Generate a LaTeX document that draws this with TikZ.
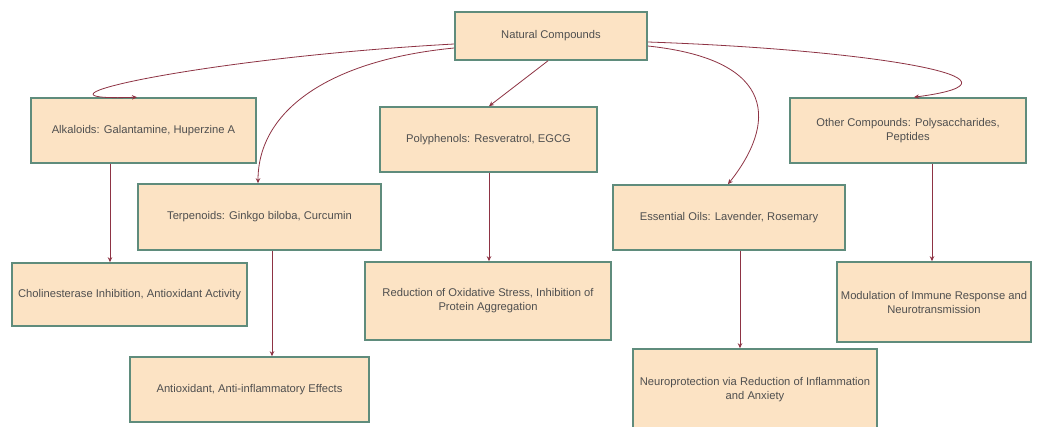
\documentclass[tikz,border=0pt]{standalone}
\usepackage{fontspec}
\setmainfont{Liberation Sans}
\usetikzlibrary{arrows.meta}
\definecolor{boxfill}{HTML}{FCE3C4}
\definecolor{boxline}{HTML}{5F8C7C}
\definecolor{arrcol}{HTML}{8E3344}
\definecolor{txt}{HTML}{4F4F4F}
\tikzset{
  box/.style={draw=boxline, line width=1.6pt, fill=boxfill, inner sep=1pt,
    align=center, text=txt, font=\fontsize{11.2}{14}\selectfont},
  arr/.style={draw=arrcol, line width=0.8pt, -{Stealth[length=5pt,width=4.5pt]}},
}
\begin{document}
\begin{tikzpicture}[x=1pt,y=-1pt]
\useasboundingbox (0,0) rectangle (1039,427);
\fill[white] (0,0) rectangle (1039,427);
\node[box, minimum width=192pt, minimum height=48pt] (nc) at (551,36) {Natural Compounds};
\node[box, minimum width=225pt, minimum height=65pt] (alk) at (143.5,130.5) {Alkaloids: Galantamine, Huperzine A};
\node[box, minimum width=243pt, minimum height=66pt] (ter) at (259.5,217) {Terpenoids: Ginkgo biloba, Curcumin};
\node[box, minimum width=217pt, minimum height=65pt] (poly) at (488.5,139.5) {Polyphenols: Resveratrol, EGCG};
\node[box, minimum width=232pt, minimum height=65pt] (ess) at (729,217.5) {Essential Oils: Lavender, Rosemary};
\node[box, minimum width=236pt, minimum height=65pt] (oth) at (908,130.5) {Other Compounds: Polysaccharides,\\Peptides};
\node[box, minimum width=235pt, minimum height=63pt] (cho) at (129.5,294.5) {Cholinesterase Inhibition, Antioxidant Activity};
\node[box, minimum width=246pt, minimum height=78pt] (red) at (488,301) {Reduction of Oxidative Stress, Inhibition of\\Protein Aggregation};
\node[box, minimum width=194pt, minimum height=80pt] (mod) at (934,302) {Modulation of Immune Response and\\Neurotransmission};
\node[box, minimum width=239pt, minimum height=65pt] (anti) at (249.5,389.5) {Antioxidant, Anti-inflammatory Effects};
\node[box, minimum width=244pt, minimum height=82pt] (neu) at (755,390) {Neuroprotection via Reduction of Inflammation\\and Anxiety};

% curves from Natural Compounds
\draw[arr] (nc.west |- 0,44) .. controls (200,58) and (5,102) .. (alk.north -| 137,0);
\draw[arr] (nc.west |- 0,48) .. controls (330,60) and (258,110) .. (ter.north -| 258,0);
\draw[arr] (nc.south -| 548,0) -- (poly.north -| 489,0);
\draw[arr] (nc.east |- 0,46) .. controls (780,60) and (775,125) .. (ess.north -| 728,0);
\draw[arr] (nc.east |- 0,42) .. controls (880,50) and (1045,80) .. (oth.north -| 914,0);

% vertical arrows
\draw[arr] (alk.south -| 110,0) -- (cho.north -| 110,0);
\draw[arr] (ter.south -| 272,0) -- (anti.north -| 272,0);
\draw[arr] (poly.south -| 489,0) -- (red.north -| 489,0);
\draw[arr] (ess.south -| 740,0) -- (neu.north -| 740,0);
\draw[arr] (oth.south -| 932,0) -- (mod.north -| 932,0);
\end{tikzpicture}
\end{document}
